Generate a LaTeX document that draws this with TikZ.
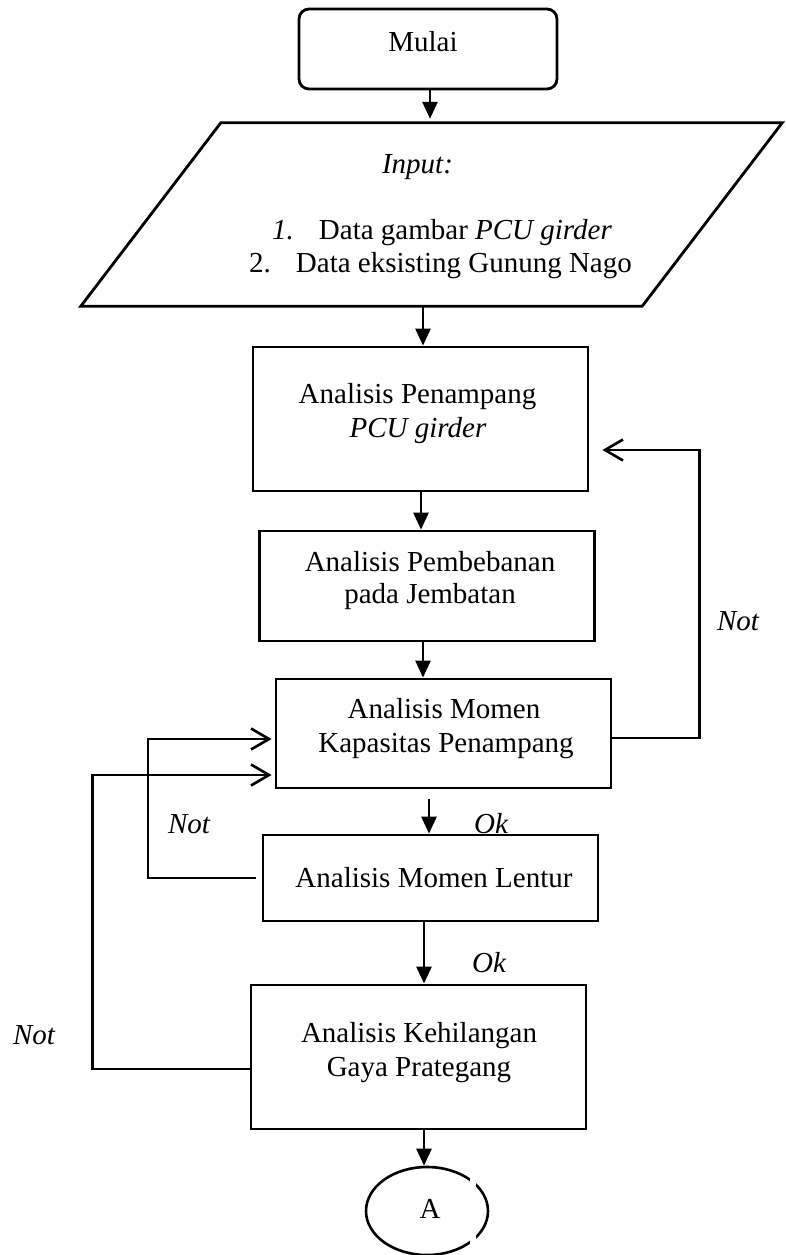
\documentclass[tikz,border=0pt]{standalone}
\usepackage{fontspec}
\setmainfont{Liberation Serif}
\usetikzlibrary{arrows.meta,shapes.geometric}
\begin{document}
\begin{tikzpicture}[x=1pt,y=-1pt,
  box/.style={draw, line width=2.8pt, inner sep=0pt, minimum width=335pt},
  lbl/.style={inner sep=0pt, anchor=base, font=\fontsize{29}{34}\selectfont},
  conn/.style={line width=2.6pt},
  arr/.style={conn, -{Triangle[length=17pt,width=15pt]}},
  fb/.style={conn, -{Straight Barb[length=18pt,width=21pt,line width=2.6pt]}},
]
\useasboundingbox (0,0) rectangle (785,1255);
% shapes
\node[box, rounded corners=10pt, minimum width=258pt, minimum height=80pt] (mulai) at (428,49) {};
\node[inner sep=0pt, minimum width=701pt, minimum height=183pt] (input) at (431.5,214.5) {};
\draw[line width=2.8pt] ([xshift=140pt]input.north west) -- (input.north east) -- ([xshift=-140pt]input.south east) -- (input.south west) -- cycle;
\node[box, minimum height=144pt] (pen) at (420.5,419) {};
\node[box, minimum height=110pt] (pemb) at (427,586) {};
\node[box, minimum height=109pt] (kap) at (443.5,733.5) {};
\node[box, minimum height=86pt] (lentur) at (430.5,878) {};
\node[box, minimum height=144pt] (gaya) at (418.5,1057) {};
\node[draw, ellipse, line width=2.6pt, inner sep=0pt, minimum width=122pt, minimum height=88pt] (akon) at (427,1211) {};
\fill[white] (470,1172) rectangle (476,1250);
% main arrows
\draw[arr, shorten >=4pt] ([xshift=2pt]mulai.south) -- ([xshift=2pt]mulai.south |- input.north);
\draw[arr] ([xshift=-8.5pt]input.south) -- ([xshift=-8.5pt]input.south |- pen.north);
\draw[arr] ([xshift=0.5pt]pen.south) -- ([xshift=0.5pt]pen.south |- pemb.north);
\draw[arr] ([xshift=-4pt]pemb.south) -- ([xshift=-4pt]pemb.south |- kap.north);
\draw[arr] ([xshift=-14.5pt,yshift=-10pt]kap.south) -- ([xshift=-14.5pt]kap.south |- lentur.north);
\draw[arr] ([xshift=-6.5pt]lentur.south) -- ([xshift=-6.5pt]lentur.south |- gaya.north);
\draw[arr] ([xshift=5.5pt]gaya.south) -- ([xshift=5.5pt]gaya.south |- akon.north);
% feedback loops
\draw[fb] ([yshift=-4.5pt]kap.east) -- ++(87pt,0pt) |- ([xshift=13pt,yshift=-31pt]pen.east);
\draw[fb] ([xshift=-5.5pt]lentur.west) -- ++(-108pt,0pt) |- ([xshift=-3pt,yshift=-5.5pt]kap.west);
\draw[fb] ([yshift=-12pt]gaya.west) -- ++(-157pt,0pt) |- ([xshift=-3pt,yshift=-41.5pt]kap.west);
% texts
\node[lbl] (tmulai) at (423,52) {Mulai};
\node[lbl] (tinput) at (417.5,173) {\itshape Input:};
\node[lbl, anchor=base west] (tin1) at (272,239) {\textit{1.}\hspace{25pt}Data gambar \textit{PCU girder}};
\node[lbl, anchor=base west] (tin2) at (249,272) {2.\hspace{25pt}Data eksisting Gunung Nago};
\node[lbl] (tpen1) at (417.5,403) {Analisis Penampang};
\node[lbl] (tpen2) at (418,437) {\itshape PCU girder};
\node[lbl] (tpemb1) at (430,571) {Analisis Pembebanan};
\node[lbl] (tpemb2) at (430,603) {pada Jembatan};
\node[lbl] (tkap1) at (444,718) {Analisis Momen};
\node[lbl] (tkap2) at (446,752) {Kapasitas Penampang};
\node[lbl] (tlen) at (434,887) {Analisis Momen Lentur};
\node[lbl] (tgaya1) at (419,1042) {Analisis Kehilangan};
\node[lbl] (tgaya2) at (419,1076) {Gaya Prategang};
\node[lbl] (ta) at (430,1218) {A};
\node[lbl] (not1) at (738,630) {\itshape Not};
\node[lbl] (not2) at (189,833) {\itshape Not};
\node[lbl] (ok1) at (491,833) {\itshape Ok};
\node[lbl] (ok2) at (489,972) {\itshape Ok};
\node[lbl] (not3) at (34,1044) {\itshape Not};
\end{tikzpicture}
\end{document}
